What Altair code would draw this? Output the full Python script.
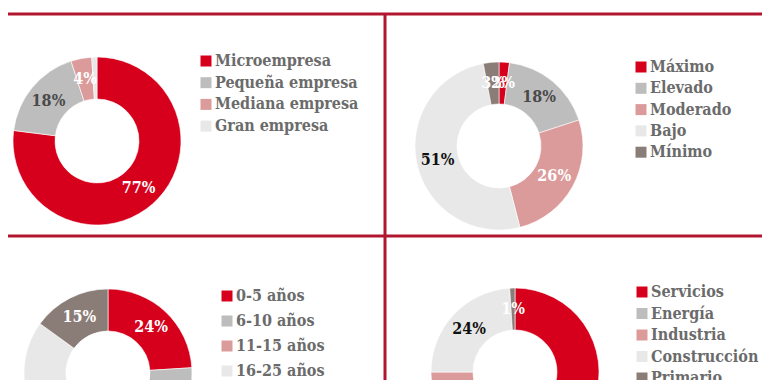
import math
import altair as alt
import pandas as pd

# ---- data -------------------------------------------------------------
d1_cats = ["Microempresa", "Pequeña empresa", "Mediana empresa", "Gran empresa"]
d1_vals = [77, 18, 4, 1]
d1_show = [True, True, True, False]

d2_cats = ["Máximo", "Elevado", "Moderado", "Bajo", "Mínimo"]
d2_vals = [2, 18, 26, 51, 3]
d2_show = [True, True, True, True, True]

d3_cats = ["0-5 años", "6-10 años", "11-15 años", "16-25 años", "Más de 25 años"]
d3_vals = [24, 17, 12, 32, 15]
d3_show = [True, True, True, True, True]

d4_cats = ["Servicios", "Energía", "Industria", "Construcción", "Primario"]
d4_vals = [61, 4, 10, 24, 1]
d4_show = [True, True, True, True, True]

palette = ["#d6001c", "#bdbdbd", "#dc9b9b", "#e8e8e8", "#8a7c76"]
text_colors = ["#ffffff", "#4a4a4a", "#ffffff", "#111111", "#ffffff"]

# ---- layout (pixels) --------------------------------------------------
OFF = 8
R_OUT, R_IN, R_LAB = 84, 42, 63
LINE = "#b1162e"
FONT = "DejaVu Serif Condensed"


def table(cats, vals, show):
    rows = []
    tot = float(sum(vals))
    acc = 0.0
    for i, (c, v) in enumerate(zip(cats, vals)):
        t0 = acc / tot * 2 * math.pi
        acc += v
        t1 = acc / tot * 2 * math.pi
        rows.append({
            "cat": c, "val": v, "t0": t0, "t1": t1, "tm": (t0 + t1) / 2,
            "lab": f"{v}%" if show[i] else "", "tc": text_colors[i],
        })
    return pd.DataFrame(rows)


def donut(cats, vals, show, cx, cy, lx, ly, rowpad):
    df = table(cats, vals, show)
    arcs = alt.Chart(df).mark_arc(
        outerRadius=R_OUT, innerRadius=R_IN, stroke="white", strokeWidth=0.6
    ).encode(
        x=alt.value(cx - OFF), y=alt.value(cy - OFF),
        theta=alt.Theta("t0:Q", scale=None, stack=None),
        theta2="t1:Q",
        color=alt.Color(
            "cat:N", sort=None,
            scale=alt.Scale(domain=cats, range=palette[: len(cats)]),
            legend=alt.Legend(orient="none", legendX=lx - OFF, legendY=ly - OFF,
                              title=None, rowPadding=rowpad),
        ),
    )
    labels = alt.Chart(df).mark_text(
        radius=R_LAB, font=FONT, fontSize=16, fontWeight="bold"
    ).encode(
        x=alt.value(cx - OFF), y=alt.value(cy - OFF),
        theta=alt.Theta("tm:Q", scale=None, stack=None),
        text="lab:N",
        color=alt.Color("tc:N", scale=None),
    )
    return [arcs, labels]


def hrule(x0, x1, y):
    return alt.Chart(pd.DataFrame({"a": [0]})).mark_rule(
        color=LINE, strokeWidth=3
    ).encode(x=alt.value(x0 - OFF), x2=alt.value(x1 - OFF), y=alt.value(y - OFF))


def vrule(x, y0, y1):
    return alt.Chart(pd.DataFrame({"a": [0]})).mark_rule(
        color=LINE, strokeWidth=3
    ).encode(x=alt.value(x - OFF), y=alt.value(y0 - OFF), y2=alt.value(y1 - OFF))


layers = [hrule(0, 765, 14), hrule(0, 765, 236), vrule(385, 14, 380)]
layers += donut(d1_cats, d1_vals, d1_show, 97, 141, 198, 53, 5.7)
layers += donut(d2_cats, d2_vals, d2_show, 499, 146, 633, 59, 5.3)
layers += donut(d3_cats, d3_vals, d3_show, 108, 373, 219, 288, 9)
layers += donut(d4_cats, d4_vals, d4_show, 515, 372, 634, 284, 5.5)

chart = alt.layer(*layers).resolve_scale(color="independent").properties(
    width=754, height=372, padding=0,
    autosize=alt.AutoSizeParams(type="none"),
    background="white",
).configure_view(stroke=None).configure_legend(
    labelFont=FONT, labelFontSize=16, labelFontWeight="bold",
    labelColor="#6b6b6b", symbolType="square", symbolSize=121,
    symbolStrokeWidth=0, labelOffset=1, padding=0, labelLimit=300,
)

chart.save("out.html", embed_options={"renderer": "svg", "actions": False})
